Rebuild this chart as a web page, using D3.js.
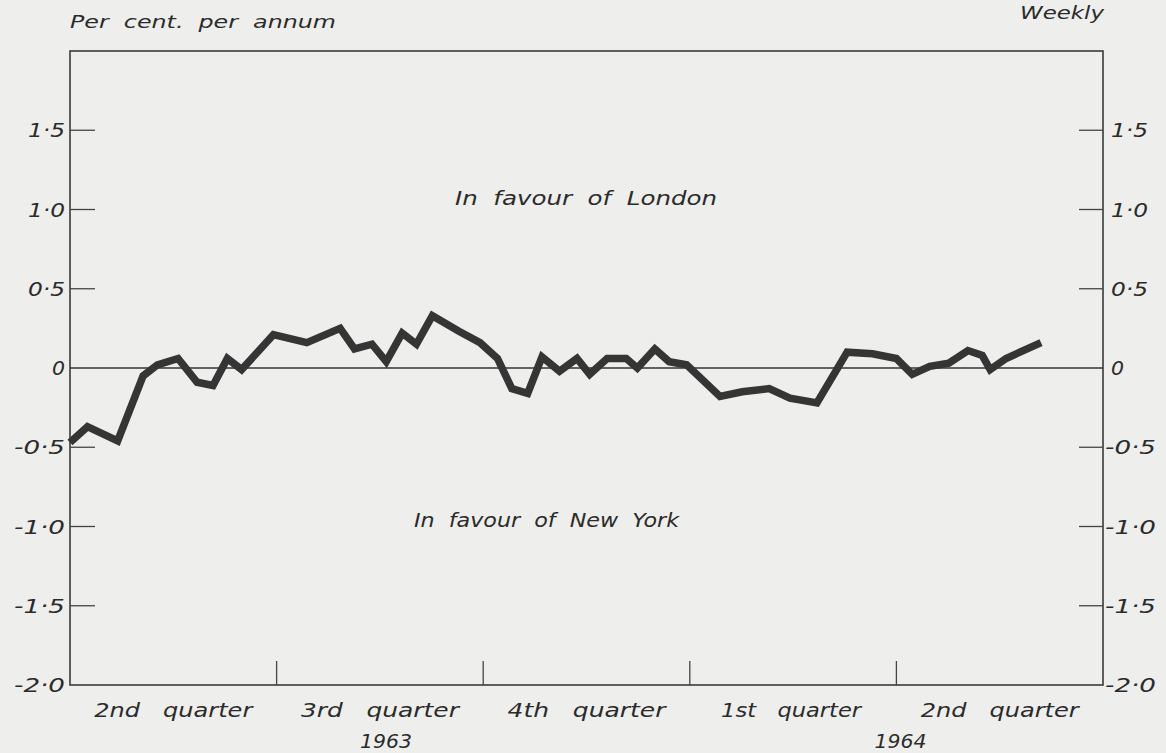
<!DOCTYPE html>
<html>
<head>
<meta charset="utf-8">
<script src="https://cdn.jsdelivr.net/npm/d3@7"></script>
<style>
  html, body { margin: 0; padding: 0; background: #eeeeec; }
  svg { display: block; }
  text { font-family: "DejaVu Sans", sans-serif; font-style: italic; fill: #2b2b2b; white-space: pre; }
</style>
</head>
<body>
<svg id="chart" width="1166" height="753"></svg>
<script>
// ---- data (weeks from start of 2nd quarter 1963) ----
const weeks = [0, 1.1, 3.0, 4.6, 5.5, 6.8, 8.0, 9.0, 9.9, 10.8, 12.8, 14.9, 17.0, 17.9, 19.0, 19.9,
  20.9, 21.8, 22.8, 24.5, 25.8, 26.9, 27.8, 28.8, 29.7, 30.8, 31.9, 32.7, 33.8, 35.0, 35.7, 36.8,
  37.7, 38.8, 40.9, 42.3, 44.0, 45.3, 47.0, 48.9, 50.5, 52.0, 53.0, 54.1, 55.3, 56.5, 57.4, 57.9, 58.9, 61.1];
const diffValues = [-0.47, -0.37, -0.46, -0.05, 0.02, 0.06, -0.09, -0.11, 0.06, -0.01, 0.21, 0.16, 0.25, 0.12, 0.15, 0.04,
  0.22, 0.15, 0.33, 0.23, 0.16, 0.06, -0.13, -0.16, 0.07, -0.02, 0.06, -0.04, 0.06, 0.06, 0.0, 0.12,
  0.04, 0.02, -0.18, -0.15, -0.13, -0.19, -0.22, 0.1, 0.09, 0.06, -0.04, 0.01, 0.03, 0.11, 0.08, -0.01, 0.06, 0.16];
const yTicks = [1.5, 1.0, 0.5, 0, -0.5, -1.0, -1.5, -2.0];
const quarterLabels = ["2nd   quarter", "3rd   quarter", "4th   quarter", "1st   quarter", "2nd   quarter"];
const quarterBounds = [0, 13, 26, 39, 52, 65];
const yearLabels = [{ text: "1963", q: 1.53 }, { text: "1964", q: 4.02 }];

// ---- layout ----
const svg = d3.select("#chart");
const mLeft = 70, mRight = 1103, mTop = 51, mBottom = 685;
const x = d3.scaleLinear().domain([0, 65]).range([mLeft, mRight]);
const y = d3.scaleLinear().domain([-2, 2]).range([mBottom, mTop]);

const fmt = v => v === 0 ? "0" : (v < 0 ? "-" : "") + Math.abs(v).toFixed(1).replace(".", "\u00B7");
const labW = v => v === 0 ? 13 : (v < 0 ? 51 : 37);

// frame
svg.append("rect").attr("x", mLeft).attr("y", mTop).attr("width", mRight - mLeft).attr("height", mBottom - mTop)
  .attr("fill", "none").attr("stroke", "#3a3a3a").attr("stroke-width", 1.6);

// ticks (inside)
const ticksNoZero = yTicks.filter(t => t !== 0 && t !== -2);
svg.append("g").selectAll("line").data(ticksNoZero).join("line")
  .attr("x1", mLeft).attr("x2", mLeft + 25).attr("y1", d => y(d)).attr("y2", d => y(d))
  .attr("stroke", "#444").attr("stroke-width", 1.3);
svg.append("g").selectAll("line").data(ticksNoZero).join("line")
  .attr("x1", mRight - 24).attr("x2", mRight).attr("y1", d => y(d)).attr("y2", d => y(d))
  .attr("stroke", "#444").attr("stroke-width", 1.3);

// left labels
svg.append("g").selectAll("text").data(yTicks).join("text")
  .attr("x", 65).attr("y", d => y(d) + 7).attr("text-anchor", "end")
  .attr("font-size", 19).attr("textLength", labW).attr("lengthAdjust", "spacingAndGlyphs").text(fmt);
// right labels
svg.append("g").selectAll("text").data(yTicks).join("text")
  .attr("x", d => d < 0 ? 1105 : 1111).attr("y", d => y(d) + 7).attr("text-anchor", "start")
  .attr("font-size", 19).attr("textLength", labW).attr("lengthAdjust", "spacingAndGlyphs").text(fmt);

// zero line
svg.append("line").attr("x1", mLeft).attr("x2", mRight).attr("y1", y(0)).attr("y2", y(0))
  .attr("stroke", "#333").attr("stroke-width", 1.5);

// quarter ticks on bottom
svg.append("g").selectAll("line").data(quarterBounds.slice(1, -1)).join("line")
  .attr("x1", d => x(d)).attr("x2", d => x(d)).attr("y1", mBottom).attr("y2", mBottom - 24)
  .attr("stroke", "#444").attr("stroke-width", 1.3);

// quarter labels
svg.append("g").selectAll("text").data(quarterLabels).join("text")
  .attr("x", (d, i) => x((quarterBounds[i] + quarterBounds[i + 1]) / 2) - (i === 3 ? 2 : 0))
  .attr("y", 717).attr("text-anchor", "middle").attr("font-size", 19)
  .attr("textLength", (d, i) => i === 3 ? 140 : 158).attr("lengthAdjust", "spacingAndGlyphs")
  .text(d => d);

// years
svg.append("g").selectAll("text").data(yearLabels).join("text")
  .attr("x", d => x(d.q * 13)).attr("y", 748).attr("text-anchor", "middle").attr("font-size", 19)
  .attr("textLength", 52).attr("lengthAdjust", "spacingAndGlyphs")
  .text(d => d.text);

// unit labels
svg.append("text").attr("x", 70).attr("y", 28).attr("font-size", 18)
  .attr("textLength", 266).attr("lengthAdjust", "spacingAndGlyphs").text("Per  cent.  per  annum");
svg.append("text").attr("x", 1104).attr("y", 19).attr("text-anchor", "end").attr("font-size", 18)
  .attr("textLength", 84).attr("lengthAdjust", "spacingAndGlyphs").text("Weekly");

// region labels
svg.append("text").attr("x", 455).attr("y", 205).attr("font-size", 19)
  .attr("textLength", 262).attr("lengthAdjust", "spacingAndGlyphs").text("In  favour  of  London");
svg.append("text").attr("x", 414).attr("y", 527).attr("font-size", 19)
  .attr("textLength", 265).attr("lengthAdjust", "spacingAndGlyphs").text("In  favour  of  New  York");

// data line
const pts = weeks.map((w, i) => [w, diffValues[i]]);
const line = d3.line().x(d => x(d[0])).y(d => y(d[1]));
svg.append("path").datum(pts).attr("d", line)
  .attr("fill", "none").attr("stroke", "#353535").attr("stroke-width", 7.5)
  .attr("stroke-linejoin", "miter").attr("stroke-linecap", "butt");
</script>
</body>
</html>
